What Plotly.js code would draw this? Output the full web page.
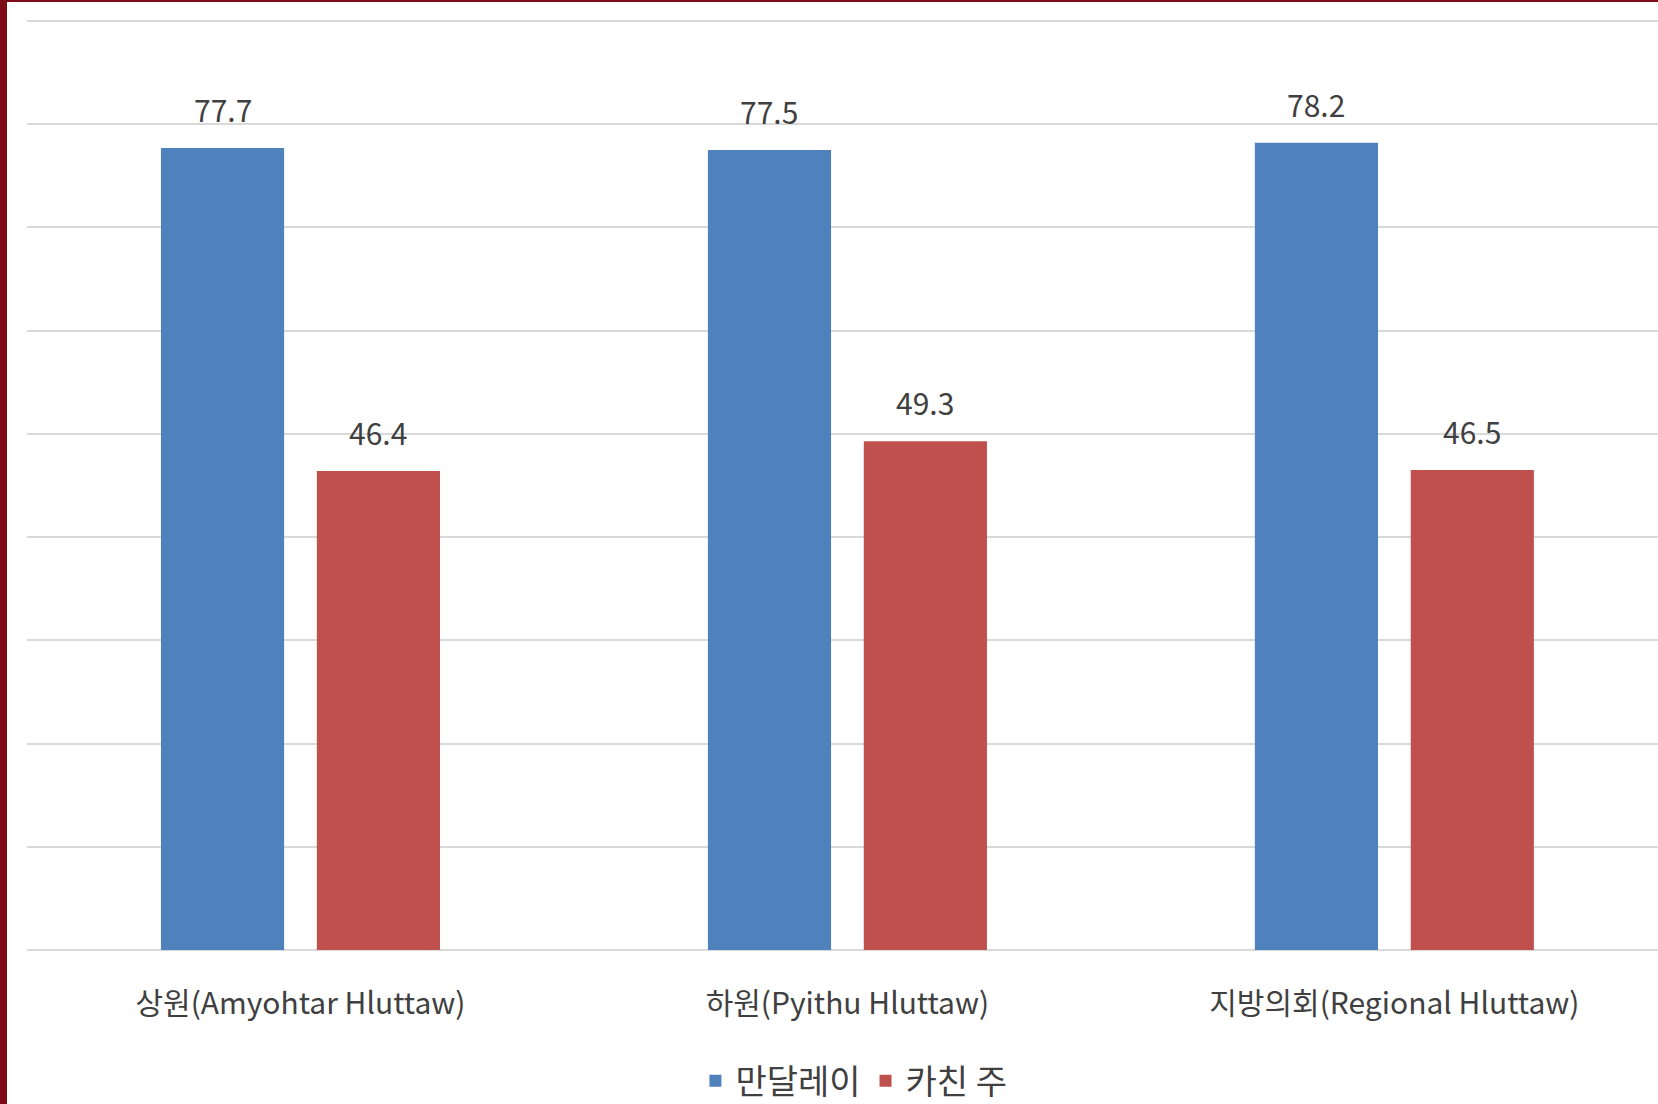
<!DOCTYPE html>
<html>
<head>
<meta charset="utf-8">
<script src="https://cdn.plot.ly/plotly-3.0.1.min.js"></script>
<style>
  html, body { margin: 0; padding: 0; background: #ffffff; overflow: hidden; }
  #chart { position: absolute; left: 0; top: 0; width: 1658px; height: 1104px; }
  #bl { position: absolute; left: 0; top: 0; width: 7px; height: 1104px; background: #7d0c16; }
  #bt { position: absolute; left: 0; top: 0; width: 1658px; height: 2px; background: #7d0c16; }
</style>
</head>
<body>
<div id="chart"></div>
<div id="bl"></div>
<div id="bt"></div>
<script>
const categories = ['상원(Amyohtar Hluttaw)', '하원(Pyithu Hluttaw)', '지방의회(Regional Hluttaw)'];
const seriesNames = ['만달레이', '카친 주'];
const mandalay = [77.7, 77.5, 78.2];
const kachin = [46.4, 49.3, 46.5];
const colors = ['#4f81bd', '#c0504d'];

const FONT = '"Noto Sans CJK KR", "Noto Sans", sans-serif';
const TEXT = '#404040';
const BARGAP = 0.43;
const BARGROUPGAP = 0.21;

const seriesValues = [mandalay, kachin];

const traces = seriesValues.map((vals, j) => ({
  type: 'bar',
  name: seriesNames[j],
  x: categories,
  y: vals,
  marker: { color: colors[j] },
  hoverinfo: 'x+y+name'
}));

const annotations = [];
seriesValues.forEach((vals, j) => {
  const off = (j === 0 ? -1 : 1) * (1 - BARGAP) / 4;
  vals.forEach((v, i) => {
    annotations.push({
      xref: 'x', yref: 'y',
      x: i + off, y: v,
      text: v.toFixed(1),
      showarrow: false,
      xanchor: 'center', yanchor: 'bottom',
      yshift: 15,
      font: { family: FONT, size: 30, color: TEXT }
    });
  });
});

const layout = {
  width: 1658,
  height: 1104,
  margin: { l: 27, r: 0, t: 20, b: 154, autoexpand: false },
  paper_bgcolor: '#ffffff',
  plot_bgcolor: '#ffffff',
  barmode: 'group',
  bargap: BARGAP,
  bargroupgap: BARGROUPGAP,
  font: { family: FONT, color: TEXT },
  xaxis: {
    type: 'category',
    range: [-0.5, 2.482],
    showgrid: false,
    showline: false,
    ticks: '',
    ticklabelstandoff: 33,
    tickfont: { family: FONT, size: 30, color: TEXT },
    automargin: false
  },
  yaxis: {
    range: [0, 90.1],
    tickvals: [0, 10, 20, 30, 40, 50, 60, 70, 80, 90],
    showticklabels: false,
    showgrid: true,
    gridcolor: '#d9d9d9',
    gridwidth: 2,
    zeroline: true,
    zerolinecolor: '#d9d9d9',
    zerolinewidth: 2,
    ticks: '',
    automargin: false
  },
  showlegend: true,
  legend: {
    orientation: 'h',
    x: 0.507, xanchor: 'center',
    y: -0.141, yanchor: 'middle',
    font: { family: FONT, size: 34, color: TEXT },
    itemwidth: 30,
    traceorder: 'normal'
  },
  annotations: annotations
};

Plotly.newPlot('chart', traces, layout, { displayModeBar: false, staticPlot: true });
</script>
</body>
</html>
